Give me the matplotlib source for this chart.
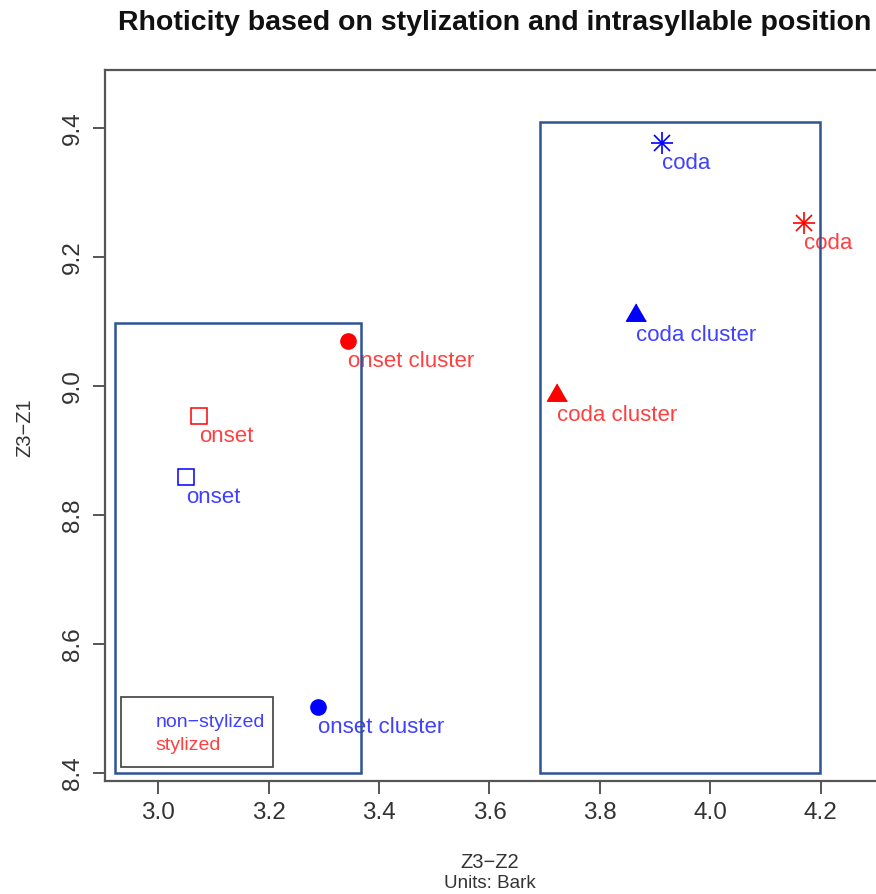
import matplotlib
matplotlib.use("Agg")
import matplotlib.pyplot as plt
from matplotlib.patches import Rectangle

plt.rcParams['font.family'] = ['Liberation Sans', 'DejaVu Sans']

# ---- data ----
labels = ["onset", "onset cluster", "coda", "coda cluster"]
x_nonstyl = [3.050, 3.290, 3.912, 3.865]
y_nonstyl = [8.859, 8.502, 9.376, 9.110]
x_styl = [3.074, 3.344, 4.170, 3.722]
y_styl = [8.953, 9.069, 9.253, 8.986]
xticks = [3.0, 3.2, 3.4, 3.6, 3.8, 4.0, 4.2]
yticks = [8.4, 8.6, 8.8, 9.0, 9.2, 9.4]
legend_labels = ["non\u2212stylized", "stylized"]
# grouping boxes (data coords: x0, y0, x1, y1)
box_onset = [2.922, 8.400, 3.367, 9.098]
box_coda = [3.691, 8.400, 4.198, 9.409]

BLUE = "#0000FF"
RED = "#FF0000"
BOXC = "#2F5496"
GRAY = "#4d4d4d"

fig = plt.figure(figsize=(8.76, 8.94), dpi=100)
W, H = 876, 894
left_px, right_px, top_px, bot_px = 105, 880, 70, 780.7
ax = fig.add_axes([left_px / W, 1 - bot_px / H, (right_px - left_px) / W, (bot_px - top_px) / H])

ppu_x = 552.0
x0_px = 158.3
ax.set_xlim(3.0 + (left_px - x0_px) / ppu_x, 3.0 + (right_px - x0_px) / ppu_x)
ppu_y = 645.0
ax.set_ylim(8.4 - (bot_px - 773) / ppu_y, 9.4 + (128 - top_px) / ppu_y)

# markers: onset = open square, onset cluster = filled circle,
# coda = asterisk, coda cluster = filled triangle
tri = [(0, 1), (-0.866, -0.5), (0.866, -0.5)]

def draw_point(x, y, kind, color):
    if kind == "onset":
        ax.plot(x, y, marker='s', ms=11.5, mfc='none', mec=color, mew=1.1, ls='none', zorder=3)
    elif kind == "onset cluster":
        ax.plot(x, y, marker='o', ms=11, mfc=color, mec=color, ls='none', zorder=3)
    elif kind == "coda":
        ax.plot(x, y, marker='+', ms=16, mec=color, mew=1.2, ls='none', zorder=3)
        ax.plot(x, y, marker='x', ms=11.3, mec=color, mew=1.2, ls='none', zorder=3)
    else:
        ax.plot(x, y, marker=tri, ms=16.6, mfc=color, mec=color, ls='none', zorder=3)

for xs, ys, col in [(x_nonstyl, y_nonstyl, BLUE), (x_styl, y_styl, RED)]:
    for lab, x, y in zip(labels, xs, ys):
        draw_point(x, y, lab, col)
        ax.annotate(lab, (x, y), xytext=(0, -7), textcoords='offset points',
                    ha='left', va='top', color=col, fontsize=16, alpha=0.75, zorder=2)

# grouping rectangles
for b in (box_onset, box_coda):
    ax.add_patch(Rectangle((b[0], b[1]), b[2] - b[0], b[3] - b[1], fill=False,
                           ec=BOXC, lw=1.8, zorder=5))

# legend (text only)
lg = [2.933, 8.409, 3.207, 8.518]
ax.add_patch(Rectangle((lg[0], lg[1]), lg[2] - lg[0], lg[3] - lg[1], fill=False,
                       ec=GRAY, lw=1.3, zorder=4))
ax.text(2.995, 8.478, legend_labels[0], color=BLUE, alpha=0.75, fontsize=14,
        ha='left', va='center', zorder=4)
ax.text(2.995, 8.442, legend_labels[1], color=RED, alpha=0.75, fontsize=14,
        ha='left', va='center', zorder=4)

# axes styling
for s in ['left', 'bottom', 'top']:
    ax.spines[s].set_color('#555555')
    ax.spines[s].set_linewidth(1.6)
ax.spines['right'].set_visible(False)
ax.set_xticks(xticks)
ax.set_yticks(yticks)
ax.set_xticklabels([f"{v:.1f}" for v in xticks])
ax.set_yticklabels([f"{v:.1f}" for v in yticks], rotation=90, va='center')
ax.tick_params(axis='both', direction='out', length=9, width=1.4, color='#555555',
               labelsize=17.5, labelcolor='#333333', pad=6)

cx = (left_px + 875) / 2 / W
fig.text(cx, 1 - 862 / H, "Z3\u2212Z2", fontsize=14.5, color='#333333',
         ha='center', va='center')
fig.text(cx, 1 - 883 / H, "Units: Bark", fontsize=13.5,
         color='#333333', ha='center', va='center')
fig.text(25 / W, 1 - 428 / H, "Z3\u2212Z1", fontsize=14.5, color='#333333',
         ha='center', va='center', rotation=90)
fig.text(495 / W, 1 - 23 / H, "Rhoticity based on stylization and intrasyllable position",
         fontsize=20.5, fontweight='bold', ha='center', va='center', color='#111111')

fig.savefig("out.png", dpi=100)
